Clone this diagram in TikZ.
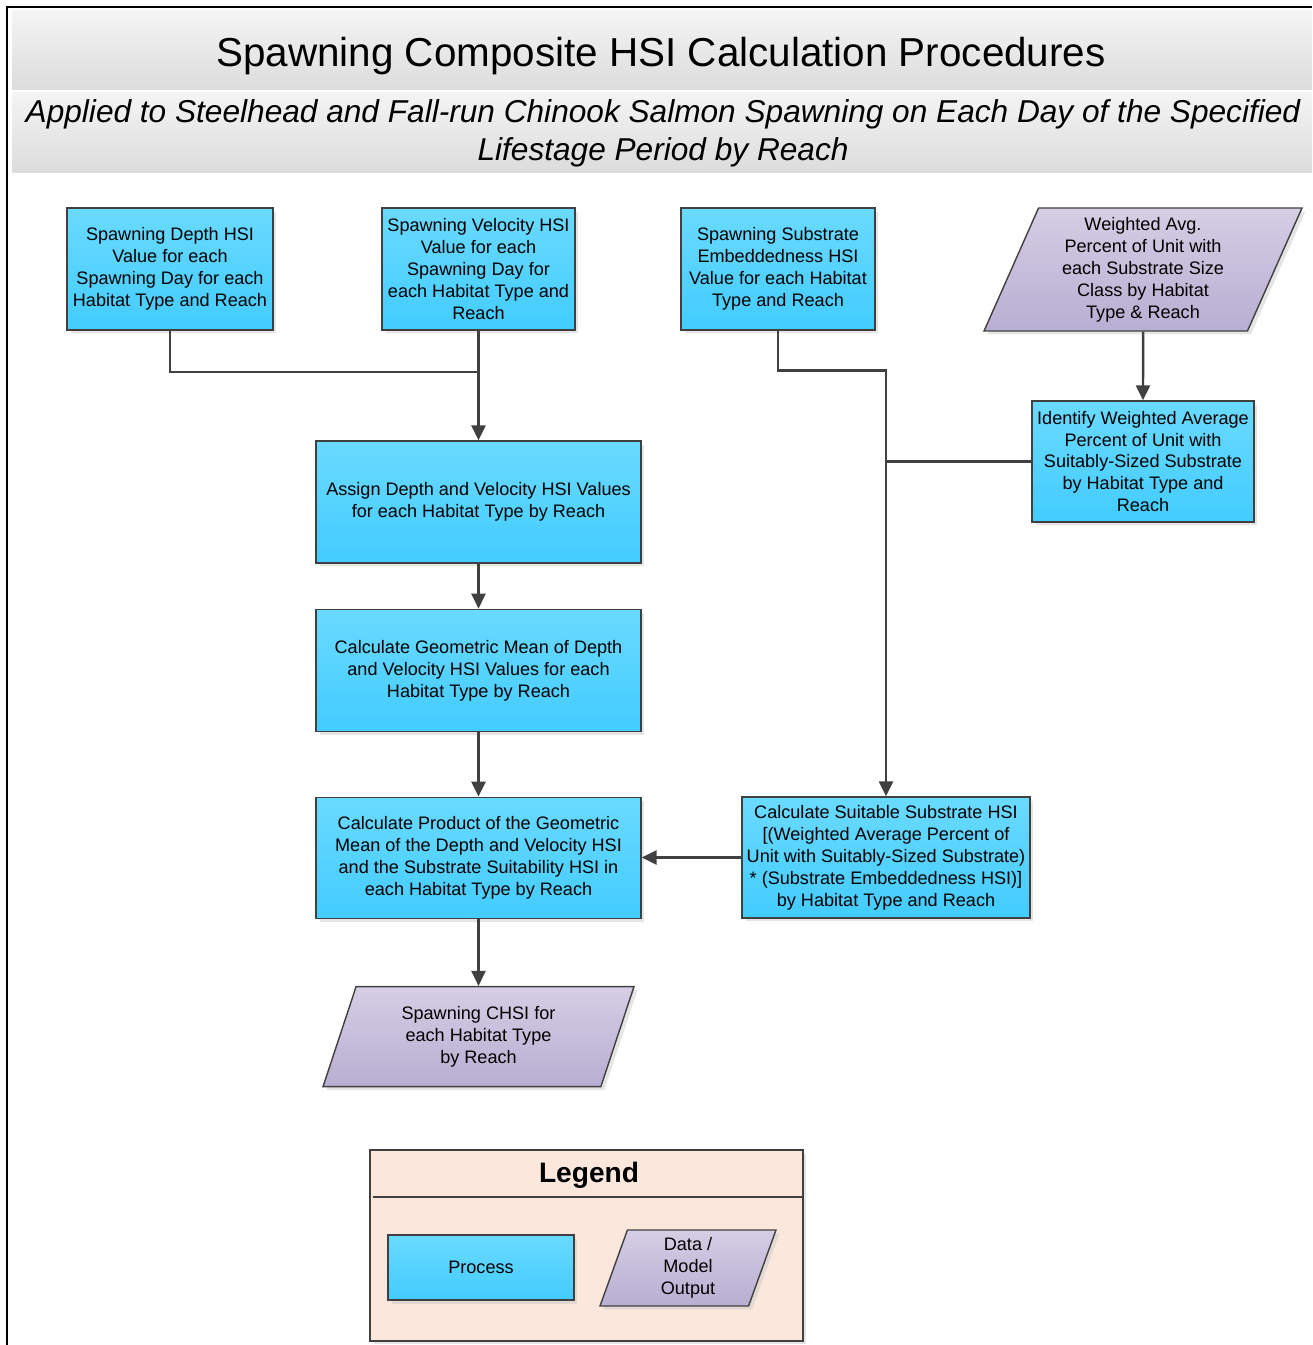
\documentclass[tikz,border=0pt]{standalone}
\usepackage{fontspec}
\setmainfont{Liberation Sans}
\usetikzlibrary{positioning,arrows.meta,shapes.geometric,shadows}
\definecolor{procTop}{HTML}{6ADAFF}
\definecolor{procBot}{HTML}{42CCFF}
\definecolor{datTop}{HTML}{D5CEE4}
\definecolor{datBot}{HTML}{B8AED2}
\definecolor{edge}{HTML}{404040}
\definecolor{legFill}{HTML}{FBE7DB}
\definecolor{bandTop}{HTML}{F4F4F4}
\definecolor{bandBot}{HTML}{DCDCDC}

\begin{document}
\begin{tikzpicture}[x=0.02cm,y=-0.02cm,
  proc/.style={draw=edge,line width=0.8pt,top color=procTop,bottom color=procBot,align=center,inner sep=2pt,
    font=\fontsize{10.3}{12.5}\selectfont,drop shadow={shadow xshift=0.07cm,shadow yshift=-0.07cm,fill=black!20}},
  dat/.style={trapezium,trapezium left angle=64,trapezium right angle=116,trapezium stretches body,
    draw=edge,line width=0.8pt,top color=datTop,bottom color=datBot,align=center,inner sep=2pt,
    font=\fontsize{10.3}{12.5}\selectfont,drop shadow={shadow xshift=0.07cm,shadow yshift=-0.07cm,fill=black!20}},
  ar/.style={draw=edge,line width=1.4pt,-{Triangle[length=0.3cm,width=0.28cm]}},
  ln/.style={draw=edge,line width=1.4pt}]
\useasboundingbox (0,0) rectangle (1312,1345);
% ---- frame and title bands
\draw[line width=1.2pt] (7,1345) -- (7,7) -- (1312,7);
\shade[top color=bandTop,bottom color=bandBot] (12,11) rectangle (1312,90);
\shade[top color=bandTop,bottom color=bandBot] (12,93) rectangle (1312,172);
\node[font=\fontsize{23}{28}\selectfont] (title) at (661,56) {Spawning Composite HSI Calculation Procedures};
\node[font=\fontsize{18}{21.5}\selectfont\itshape,align=center] (subtitle) at (663,133)
  {Applied to Steelhead and Fall-run Chinook Salmon Spawning on Each Day of the Specified\\Lifestage Period by Reach};
% ---- inputs
\node[proc,minimum width=4.12cm,minimum height=2.44cm] (depth) at (170,269)
  {Spawning Depth HSI\\Value for each\\Spawning Day for each\\Habitat Type and Reach};
\node[proc,minimum width=3.86cm,minimum height=2.44cm] (vel) at (478.5,269)
  {Spawning Velocity HSI\\Value for each\\Spawning Day for\\each Habitat Type and\\Reach};
\node[proc,minimum width=3.88cm,minimum height=2.44cm] (emb) at (778,269)
  {Spawning Substrate\\Embeddedness HSI\\Value for each Habitat\\Type and Reach};
\node[dat,minimum width=6.36cm,minimum height=2.46cm] (avg) at (1143,269.5)
  {Weighted Avg.\\Percent of Unit with\\each Substrate Size\\Class by Habitat\\Type \& Reach};
\node[proc,minimum width=4.44cm,minimum height=2.42cm] (ident) at (1143,461.5)
  {Identify Weighted Average\\Percent of Unit with\\Suitably-Sized Substrate\\by Habitat Type and\\Reach};
% ---- depth/velocity chain
\node[proc,minimum width=6.5cm,minimum height=2.44cm] (assign) at (478.5,502)
  {Assign Depth and Velocity HSI Values\\for each Habitat Type by Reach};
\node[proc,minimum width=6.5cm,minimum height=2.44cm,below=0.9cm of assign] (geo)
  {Calculate Geometric Mean of Depth\\and Velocity HSI Values for each\\Habitat Type by Reach};
\node[proc,minimum width=6.5cm,minimum height=2.42cm,below=1.29cm of geo] (prod)
  {Calculate Product of the Geometric\\Mean of the Depth and Velocity HSI\\and the Substrate Suitability HSI in\\each Habitat Type by Reach};
\node[proc,minimum width=5.76cm,minimum height=2.42cm] (suit) at (886,857.5)
  {Calculate Suitable Substrate HSI\\{[}(Weighted Average Percent of\\Unit with Suitably-Sized Substrate)\\* (Substrate Embeddedness HSI)]\\by Habitat Type and Reach};
\node[dat,minimum width=6.22cm,minimum height=2.0cm,below=1.34cm of prod] (chsi)
  {Spawning CHSI for\\each Habitat Type\\by Reach};
% ---- connections
\coordinate (jvel) at (478.5,372);
\draw[ln] (depth.south) |- (jvel);
\draw[ar] (vel.south) -- (assign.north);
\draw[ar] (emb.south) -- ++(0,40) -| (suit.north);
\draw[ar] (avg.south) -- (ident.north);
\draw[ln] (ident.west) -- (ident.west -| suit.north);
\draw[ar] (assign.south) -- (geo.north);
\draw[ar] (geo.south) -- (prod.north);
\draw[ar] (prod.south) -- (chsi.north);
\draw[ar] (suit.west) -- (suit.west -| prod.east);
% ---- legend
\node[draw=edge,line width=0.8pt,fill=legFill,minimum width=8.66cm,minimum height=3.82cm,
  drop shadow={shadow xshift=0.07cm,shadow yshift=-0.07cm,fill=black!20}] (legbox) at (586.5,1245.5) {};
\node[font=\fontsize{16}{19}\selectfont\bfseries] (legttl) at (589,1175) {Legend};
\coordinate (legsep) at (589,1197);
\draw[edge,line width=0.8pt] ([xshift=0.08cm]legbox.west |- legsep) -- (legbox.east |- legsep);
\node[proc,minimum width=3.72cm,minimum height=1.3cm] (lproc) at (481,1267.5) {Process};
\node[dat,trapezium left angle=68,trapezium right angle=112,minimum width=3.52cm,minimum height=1.52cm] (ldat) at (688,1268)
  {Data /\\Model\\Output};
\end{tikzpicture}
\end{document}
